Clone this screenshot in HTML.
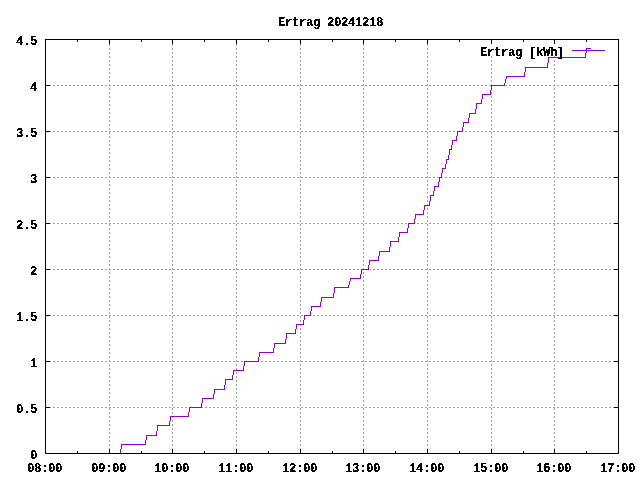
<!DOCTYPE html>
<html><head><meta charset="utf-8"><title>Ertrag 20241218</title>
<style>
html,body{margin:0;padding:0;background:#fff}
#c{position:relative;width:640px;height:480px;overflow:hidden;background:#fff}
.t{position:absolute;font-family:"Liberation Mono",monospace;font-weight:bold;font-size:13.66px;line-height:17px;height:17px;letter-spacing:-0.418px;white-space:pre;color:#000;transform-origin:0 0;transform:scaleX(0.9);filter:url(#thr);}
</style></head><body><div id="c">
<svg width="640" height="480" viewBox="0 0 640 480" shape-rendering="crispEdges" style="position:absolute;left:0;top:0">
<path d="M45 407.5H619M45 361.5H619M45 315.5H619M45 269.5H619M45 223.5H619M45 177.5H619M45 131.5H619M45 85.5H619M109.5 454V39M172.5 454V39M236.5 454V39M300.5 454V39M363.5 454V39M427.5 454V39M491.5 454V39M554.5 454V39" fill="none" stroke="#a0a0a0" stroke-width="1" stroke-dasharray="2 2"/>
<rect x="478" y="44" width="130" height="12" fill="#fff"/>
<path d="M120 449h1v5h-1zM121 444h1v5h-1zM121 444h25v1h-25zM145 440h1v5h-1zM146 435h1v5h-1zM146 435h11v1h-11zM156 431h1v5h-1zM157 425h1v6h-1zM157 425h13v1h-13zM169 421h1v5h-1zM170 416h1v5h-1zM170 416h19v1h-19zM188 412h1v5h-1zM189 407h1v5h-1zM189 407h13v1h-13zM201 403h1v5h-1zM202 398h1v5h-1zM202 398h12v1h-12zM213 394h1v5h-1zM214 389h1v5h-1zM214 389h11v1h-11zM224 385h1v5h-1zM225 379h1v6h-1zM225 379h8v1h-8zM232 375h1v5h-1zM233 370h1v5h-1zM233 370h11v1h-11zM243 366h1v5h-1zM244 361h1v5h-1zM244 361h15v1h-15zM258 357h1v5h-1zM259 352h1v5h-1zM259 352h15v1h-15zM273 348h1v5h-1zM274 343h1v5h-1zM274 343h12v1h-12zM285 339h1v5h-1zM286 333h1v6h-1zM286 333h10v1h-10zM295 329h1v5h-1zM296 324h1v5h-1zM296 324h8v1h-8zM303 320h1v5h-1zM304 315h1v5h-1zM304 315h7v1h-7zM310 311h1v5h-1zM311 306h1v5h-1zM311 306h10v1h-10zM320 302h1v5h-1zM321 297h1v5h-1zM321 297h13v1h-13zM333 293h1v5h-1zM334 287h1v6h-1zM334 287h15v1h-15zM348 285h1v3h-1zM349 281h1v4h-1zM350 278h1v3h-1zM350 278h11v1h-11zM360 274h1v5h-1zM361 269h1v5h-1zM361 269h8v1h-8zM368 265h1v5h-1zM369 260h1v5h-1zM369 260h10v1h-10zM378 256h1v5h-1zM379 251h1v5h-1zM379 251h11v1h-11zM389 247h1v5h-1zM390 241h1v6h-1zM390 241h9v1h-9zM398 237h1v5h-1zM399 232h1v5h-1zM399 232h9v1h-9zM407 228h1v5h-1zM408 223h1v5h-1zM408 223h7v1h-7zM414 219h1v5h-1zM415 214h1v5h-1zM415 214h9v1h-9zM423 210h1v5h-1zM424 205h1v5h-1zM424 205h6v1h-6zM429 201h1v5h-1zM430 195h1v6h-1zM430 195h4v1h-4zM433 191h1v5h-1zM434 186h1v5h-1zM434 186h5v1h-5zM438 182h1v5h-1zM439 177h1v5h-1zM439 177h3v1h-3zM441 173h1v5h-1zM442 168h1v5h-1zM442 168h4v1h-4zM445 164h1v5h-1zM446 159h1v5h-1zM446 159h3v1h-3zM448 155h1v5h-1zM449 149h1v6h-1zM449 149h3v1h-3zM451 145h1v5h-1zM452 140h1v5h-1zM452 140h5v1h-5zM456 136h1v5h-1zM457 131h1v5h-1zM457 131h6v1h-6zM462 127h1v5h-1zM463 122h1v5h-1zM463 122h6v1h-6zM468 118h1v5h-1zM469 113h1v5h-1zM469 113h7v1h-7zM475 109h1v5h-1zM476 103h1v6h-1zM476 103h6v1h-6zM481 99h1v5h-1zM482 94h1v5h-1zM482 94h9v1h-9zM490 90h1v5h-1zM491 85h1v5h-1zM491 85h14v1h-14zM504 83h1v3h-1zM505 79h1v4h-1zM506 76h1v3h-1zM506 76h19v1h-19zM524 72h1v5h-1zM525 67h1v5h-1zM525 67h23v1h-23zM547 63h1v5h-1zM548 57h1v6h-1zM548 57h38v1h-38zM585 53h1v5h-1zM586 48h1v5h-1zM586 48h5v1h-5z" fill="#9400d3"/>
<rect x="572" y="50" width="33" height="1" fill="#9400d3"/>
<path d="M45 39h574v1h-574zM45 453h574v1h-574zM45 39h1v415h-1zM618 39h1v415h-1zM45 453h5v1h-5zM614 453h5v1h-5zM45 407h5v1h-5zM614 407h5v1h-5zM45 361h5v1h-5zM614 361h5v1h-5zM45 315h5v1h-5zM614 315h5v1h-5zM45 269h5v1h-5zM614 269h5v1h-5zM45 223h5v1h-5zM614 223h5v1h-5zM45 177h5v1h-5zM614 177h5v1h-5zM45 131h5v1h-5zM614 131h5v1h-5zM45 85h5v1h-5zM614 85h5v1h-5zM45 39h5v1h-5zM614 39h5v1h-5zM45 449h1v5h-1zM45 39h1v5h-1zM77 451h1v3h-1zM77 39h1v3h-1zM109 449h1v5h-1zM109 39h1v5h-1zM141 451h1v3h-1zM141 39h1v3h-1zM172 449h1v5h-1zM172 39h1v5h-1zM204 451h1v3h-1zM204 39h1v3h-1zM236 449h1v5h-1zM236 39h1v5h-1zM268 451h1v3h-1zM268 39h1v3h-1zM300 449h1v5h-1zM300 39h1v5h-1zM332 451h1v3h-1zM332 39h1v3h-1zM363 449h1v5h-1zM363 39h1v5h-1zM395 451h1v3h-1zM395 39h1v3h-1zM427 449h1v5h-1zM427 39h1v5h-1zM459 451h1v3h-1zM459 39h1v3h-1zM491 449h1v5h-1zM491 39h1v5h-1zM523 451h1v3h-1zM523 39h1v3h-1zM554 449h1v5h-1zM554 39h1v5h-1zM586 451h1v3h-1zM586 39h1v3h-1zM618 449h1v5h-1zM618 39h1v5h-1z" fill="#000"/>
<defs><filter id="thr" x="0" y="0" width="100%" height="100%" color-interpolation-filters="sRGB"><feComponentTransfer><feFuncA type="discrete" tableValues="0 0 0 0 0 0 0 0 0 0 0 0 0 0 0 1 1 1 1 1 1 1 1 1 1 1 1 1 1 1 1 1 1 1 1 1 1 1 1 1"/></feComponentTransfer></filter></defs>
</svg>
<div class="t" style="left:278px;top:14px">Ertrag 20241218</div>
<div class="t" style="left:480px;top:44px">Ertrag [kWh]</div>
<div class="t" style="left:30px;top:447px">0</div>
<div class="t" style="left:16px;top:401px">0.5</div>
<div class="t" style="left:30px;top:355px">1</div>
<div class="t" style="left:16px;top:309px">1.5</div>
<div class="t" style="left:30px;top:263px">2</div>
<div class="t" style="left:16px;top:217px">2.5</div>
<div class="t" style="left:30px;top:171px">3</div>
<div class="t" style="left:16px;top:125px">3.5</div>
<div class="t" style="left:30px;top:79px">4</div>
<div class="t" style="left:16px;top:33px">4.5</div>
<div class="t" style="left:27px;top:460px">08:00</div>
<div class="t" style="left:91px;top:460px">09:00</div>
<div class="t" style="left:154px;top:460px">10:00</div>
<div class="t" style="left:218px;top:460px">11:00</div>
<div class="t" style="left:282px;top:460px">12:00</div>
<div class="t" style="left:345px;top:460px">13:00</div>
<div class="t" style="left:409px;top:460px">14:00</div>
<div class="t" style="left:473px;top:460px">15:00</div>
<div class="t" style="left:536px;top:460px">16:00</div>
<div class="t" style="left:600px;top:460px">17:00</div>
</div></body></html>
